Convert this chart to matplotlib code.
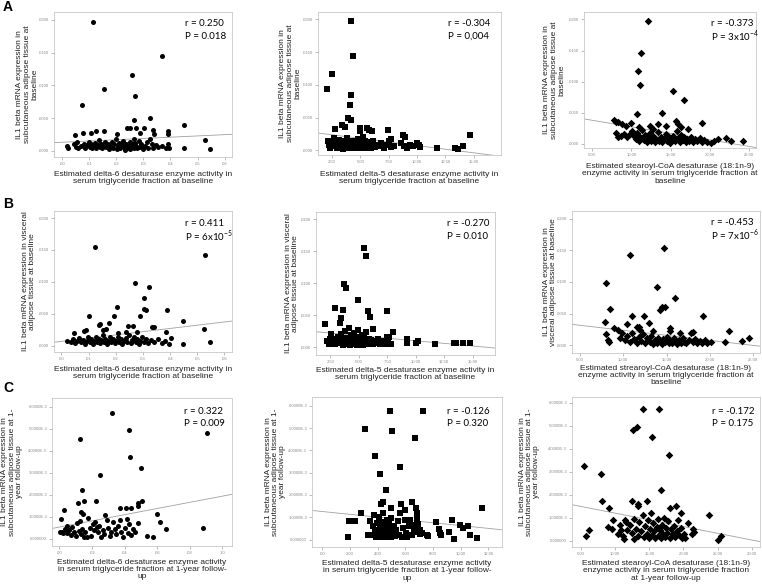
import matplotlib
matplotlib.use('Agg')

import matplotlib.pyplot as plt
import numpy as np

W, H = 762, 588
plt.rcParams['font.family'] = ['Liberation Sans', 'DejaVu Sans']

# ---- data ----
a1_x = [0.0113, 0.0367, 0.0258, 0.0153, 0.0268, 0.0074, 0.0323, 0.0266, 0.0448, 0.0240,
        0.0250, 0.0272, 0.0304, 0.0335, 0.0390, 0.0389, 0.0125, 0.0154, 0.0106, 0.0077,
        0.0049, 0.0204, 0.0286, 0.0340, 0.0528, 0.0547, 0.0450,
        0.0018, 0.0020, 0.0045, 0.0050, 0.0055, 0.0060, 0.0068, 0.0080, 0.0085, 0.0092,
        0.0098, 0.0103, 0.0108, 0.0112, 0.0117, 0.0121, 0.0126, 0.0131, 0.0135, 0.0139,
        0.0143, 0.0148, 0.0152, 0.0158, 0.0163, 0.0168, 0.0173, 0.0178, 0.0183, 0.0188,
        0.0193, 0.0198, 0.0201, 0.0206, 0.0211, 0.0215, 0.0220, 0.0225, 0.0229, 0.0233,
        0.0237, 0.0241, 0.0245, 0.0249, 0.0252, 0.0256, 0.0260, 0.0264, 0.0267, 0.0270,
        0.0274, 0.0278, 0.0282, 0.0287, 0.0292, 0.0298, 0.0305, 0.0312, 0.0318, 0.0325,
        0.0330, 0.0336, 0.0345, 0.0355, 0.0370, 0.0385, 0.0395, 0.0392]
a1_y = [0.0197, 0.0145, 0.0116, 0.0094, 0.0084, 0.0070, 0.0050, 0.0048, 0.0040, 0.0035,
        0.0035, 0.0035, 0.0035, 0.0032, 0.0031, 0.0026, 0.0030, 0.0030, 0.0027, 0.0027,
        0.0025, 0.0026, 0.0028, 0.0026, 0.0016, 0.0003, 0.0004,
        0.0007, 0.0005, 0.0010, 0.0006, 0.0013, 0.0004, 0.0008, 0.0011, 0.0005, 0.0009,
        0.0014, 0.0006, 0.0010, 0.0004, 0.0008, 0.0012, 0.0005, 0.0009, 0.0016, 0.0006,
        0.0011, 0.0004, 0.0008, 0.0013, 0.0006, 0.0010, 0.0003, 0.0008, 0.0014, 0.0005,
        0.0010, 0.0019, 0.0003, 0.0007, 0.0012, 0.0004, 0.0009, 0.0015, 0.0006, 0.0002,
        0.0011, 0.0005, 0.0008, 0.0013, 0.0003, 0.0007, 0.0010, 0.0018, 0.0005, 0.0012,
        0.0008, 0.0004, 0.0015, 0.0006, 0.0010, 0.0003, 0.0008, 0.0013, 0.0005, 0.0019,
        0.0011, 0.0004, 0.0009, 0.0006, 0.0008, 0.0004, 0.0005, 0.0011]

a2_x = [4.21, 4.39, 2.50, 2.03, 4.18, 4.06, 3.92, 4.18, 3.38, 3.68,
        2.80, 4.98, 4.98, 5.62, 5.74, 7.42, 8.78, 8.93, 14.68, 6.04,
        2.65, 2.12, 14.08, 11.73, 13.38, 13.58, 7.66,
        2.20, 2.35, 2.55, 2.70, 2.85, 2.95, 3.05, 3.15, 3.25, 3.35,
        3.45, 3.55, 3.62, 3.70, 3.78, 3.85, 3.92, 4.00, 4.08, 4.15,
        4.22, 4.30, 4.38, 4.45, 4.52, 4.60, 4.68, 4.75, 4.82, 4.90,
        4.97, 5.05, 5.12, 5.20, 5.28, 5.35, 5.42, 5.50, 5.58, 5.66,
        5.75, 5.85, 5.95, 6.05, 6.15, 6.25, 6.40, 6.60, 6.85, 7.05,
        7.30, 7.50, 7.70, 7.95, 8.60, 8.85, 9.10, 9.40, 9.65, 9.95,
        10.15, 10.30]
a2_y = [0.0197, 0.0144, 0.0116, 0.0094, 0.0084, 0.0069, 0.0050, 0.0047, 0.0039, 0.0035,
        0.0032, 0.0034, 0.0030, 0.0034, 0.0031, 0.0031, 0.0024, 0.0021, 0.0024, 0.0029,
        0.0019, 0.0014, 0.0006, 0.0003, 0.0003, 0.0002, 0.0018,
        0.0008, 0.0004, 0.0011, 0.0006, 0.0013, 0.0003, 0.0009, 0.0016, 0.0005, 0.0011,
        0.0002, 0.0008, 0.0014, 0.0005, 0.0010, 0.0019, 0.0003, 0.0007, 0.0012, 0.0004,
        0.0009, 0.0015, 0.0006, 0.0011, 0.0003, 0.0008, 0.0013, 0.0005, 0.0017, 0.0009,
        0.0004, 0.0012, 0.0007, 0.0021, 0.0005, 0.0010, 0.0015, 0.0003, 0.0008, 0.0013,
        0.0006, 0.0010, 0.0004, 0.0008, 0.0014, 0.0005, 0.0009, 0.0006, 0.0011, 0.0004,
        0.0009, 0.0014, 0.0005, 0.0007, 0.0011, 0.0006, 0.0004, 0.0009, 0.0007, 0.0012,
        0.0008, 0.0005]

a3_x = [12.09, 11.20, 10.86, 11.11, 15.32, 16.76, 13.96, 10.65, 7.76, 8.06,
        8.27, 19.01, 8.82, 9.33, 9.97, 8.00, 8.27, 15.66, 15.91, 16.30,
        12.39, 13.37, 20.58, 21.05, 22.11, 22.70, 24.24, 20.16,
        8.70, 9.05, 9.40, 9.75, 10.05, 10.30, 10.55, 10.75, 10.95, 11.15,
        11.35, 11.55, 11.75, 11.95, 12.15, 12.35, 12.55, 12.75, 12.95, 13.15,
        13.35, 13.55, 13.75, 13.95, 14.15, 14.35, 14.55, 14.75, 14.95, 15.15,
        15.35, 15.55, 15.75, 15.95, 16.15, 16.35, 16.55, 16.75, 16.95, 17.15,
        17.40, 17.65, 17.90, 18.15, 18.40, 18.70, 19.00, 19.30, 19.60, 11.00,
        12.80, 14.40, 17.20]
a3_y = [0.0197, 0.0146, 0.0117, 0.0094, 0.0084, 0.0070, 0.0049, 0.0047, 0.0038, 0.0035,
        0.0035, 0.0034, 0.0032, 0.0029, 0.0034, 0.0017, 0.0010, 0.0037, 0.0031, 0.0027,
        0.0028, 0.0031, 0.0004, 0.0007, 0.0009, 0.0004, 0.0005, 0.0001,
        0.0012, 0.0015, 0.0011, 0.0016, 0.0020, 0.0013, 0.0007, 0.0017, 0.0004, 0.0010,
        0.0022, 0.0006, 0.0014, 0.0002, 0.0009, 0.0017, 0.0005, 0.0012, 0.0003, 0.0008,
        0.0019, 0.0005, 0.0011, 0.0002, 0.0008, 0.0015, 0.0004, 0.0010, 0.0001, 0.0007,
        0.0013, 0.0004, 0.0020, 0.0009, 0.0003, 0.0014, 0.0006, 0.0011, 0.0002, 0.0008,
        0.0005, 0.0010, 0.0003, 0.0007, 0.0004, 0.0009, 0.0003, 0.0006, 0.0002, 0.0027,
        0.0024, 0.0028, 0.0024]

b1_x = [0.0123, 0.0528, 0.0270, 0.0321, 0.0304, 0.0303, 0.0313, 0.0205, 0.0102, 0.0193,
        0.0288, 0.0389, 0.0447, 0.0525, 0.0547, 0.0449, 0.0142, 0.0177, 0.0244, 0.0334,
        0.0340, 0.0385, 0.0402, 0.0045, 0.0083, 0.0089, 0.0020,
        0.0264, 0.0280, 0.0237, 0.0209, 0.0166, 0.0153, 0.0138,
        0.0035, 0.0042, 0.0050, 0.0058, 0.0065, 0.0072, 0.0080, 0.0086, 0.0093, 0.0099,
        0.0105, 0.0110, 0.0116, 0.0121, 0.0127, 0.0132, 0.0137, 0.0142, 0.0147, 0.0152,
        0.0157, 0.0162, 0.0168, 0.0173, 0.0178, 0.0184, 0.0190, 0.0196, 0.0201, 0.0207,
        0.0213, 0.0219, 0.0225, 0.0231, 0.0237, 0.0243, 0.0249, 0.0255, 0.0261, 0.0267,
        0.0273, 0.0279, 0.0285, 0.0291, 0.0297, 0.0304, 0.0312, 0.0320, 0.0330, 0.0342,
        0.0355, 0.0370, 0.0382, 0.0395]
b1_y = [0.0154, 0.0142, 0.0098, 0.0092, 0.0074, 0.0057, 0.0056, 0.0060, 0.0047, 0.0046,
        0.0046, 0.0056, 0.0038, 0.0026, 0.0006, 0.0003, 0.0034, 0.0035, 0.0030, 0.0029,
        0.0029, 0.0022, 0.0012, 0.0019, 0.0023, 0.0024, 0.0007,
        0.0031, 0.0022, 0.0022, 0.0020, 0.0026, 0.0024, 0.0033,
        0.0006, 0.0010, 0.0004, 0.0008, 0.0012, 0.0005, 0.0009, 0.0003, 0.0007, 0.0013,
        0.0005, 0.0010, 0.0003, 0.0008, 0.0014, 0.0006, 0.0011, 0.0004, 0.0009, 0.0016,
        0.0005, 0.0010, 0.0003, 0.0008, 0.0013, 0.0006, 0.0011, 0.0004, 0.0008, 0.0014,
        0.0005, 0.0010, 0.0003, 0.0008, 0.0012, 0.0006, 0.0017, 0.0004, 0.0009, 0.0013,
        0.0005, 0.0010, 0.0003, 0.0008, 0.0014, 0.0005, 0.0010, 0.0004, 0.0009, 0.0006,
        0.0011, 0.0004, 0.0008, 0.0003]

b2_x = [5.49, 5.63, 3.70, 3.85, 4.96, 2.94, 3.61, 5.84, 6.01, 7.48,
        3.44, 3.35, 2.00, 6.28, 8.00, 7.45, 7.62, 9.20, 9.26, 10.20,
        10.02, 11.72, 13.39, 13.57, 14.15, 14.74, 2.56, 2.50,
        2.20, 2.35, 2.65, 2.80, 2.95, 3.10, 3.20, 3.30, 3.40, 3.50,
        3.60, 3.70, 3.80, 3.88, 3.95, 4.05, 4.12, 4.20, 4.28, 4.35,
        4.42, 4.50, 4.58, 4.65, 4.72, 4.80, 4.88, 4.95, 5.02, 5.10,
        5.18, 5.25, 5.32, 5.40, 5.48, 5.55, 5.62, 5.70, 5.78, 5.88,
        5.98, 6.10, 6.22, 6.35, 6.50, 6.70, 6.90, 7.10, 7.30, 7.55,
        7.80]
b2_y = [0.0154, 0.0142, 0.0099, 0.0092, 0.0074, 0.0061, 0.0058, 0.0056, 0.0047, 0.0056,
        0.0046, 0.0038, 0.0036, 0.0028, 0.0023, 0.0016, 0.0016, 0.0012, 0.0007, 0.0010,
        0.0007, 0.0004, 0.0007, 0.0006, 0.0007, 0.0007, 0.0021, 0.0012,
        0.0009, 0.0005, 0.0008, 0.0013, 0.0004, 0.0010, 0.0016, 0.0006, 0.0021, 0.0011,
        0.0003, 0.0008, 0.0025, 0.0014, 0.0005, 0.0010, 0.0029, 0.0003, 0.0018, 0.0008,
        0.0013, 0.0004, 0.0022, 0.0010, 0.0006, 0.0015, 0.0003, 0.0026, 0.0009, 0.0012,
        0.0005, 0.0019, 0.0008, 0.0003, 0.0014, 0.0006, 0.0024, 0.0010, 0.0004, 0.0013,
        0.0007, 0.0011, 0.0004, 0.0009, 0.0006, 0.0013, 0.0005, 0.0009, 0.0004, 0.0008,
        0.0005]

b3_x = [14.67, 10.74, 8.08, 13.90, 15.98, 14.25, 14.51, 14.86, 8.47, 11.01,
        12.36, 19.21, 7.93, 10.47, 12.97, 9.00, 9.39, 11.55, 11.80, 12.00,
        15.44, 15.44, 22.22, 8.08, 8.31, 8.35, 24.49, 23.72, 21.68,
        9.60, 9.90, 10.20, 10.50, 10.80, 11.05, 11.30, 11.55, 11.80, 12.05,
        12.30, 12.55, 12.80, 13.05, 13.25, 13.45, 13.65, 13.85, 14.05, 14.25,
        14.45, 14.65, 14.85, 15.05, 15.25, 15.45, 15.65, 15.85, 16.05, 16.25,
        16.45, 16.65, 16.85, 17.05, 17.30, 17.55, 17.80, 18.05, 18.30, 18.55,
        18.80, 19.10, 19.40, 19.70, 20.10, 13.40, 16.60, 18.10]
b3_y = [0.0154, 0.0142, 0.0098, 0.0092, 0.0074, 0.0056, 0.0060, 0.0061, 0.0058, 0.0046,
        0.0046, 0.0047, 0.0037, 0.0034, 0.0035, 0.0028, 0.0025, 0.0029, 0.0029, 0.0025,
        0.0028, 0.0022, 0.0022, 0.0018, 0.0009, 0.0006, 0.0012, 0.0007, 0.0006,
        0.0012, 0.0019, 0.0008, 0.0015, 0.0005, 0.0020, 0.0010, 0.0004, 0.0013, 0.0007,
        0.0018, 0.0003, 0.0011, 0.0006, 0.0015, 0.0002, 0.0009, 0.0004, 0.0012, 0.0007,
        0.0002, 0.0010, 0.0005, 0.0014, 0.0003, 0.0008, 0.0004, 0.0011, 0.0006, 0.0002,
        0.0009, 0.0004, 0.0012, 0.0006, 0.0003, 0.0009, 0.0020, 0.0005, 0.0010, 0.0003,
        0.0007, 0.0004, 0.0008, 0.0003, 0.0005, 0.0022, 0.0019, 0.0021]

c1_x = [0.0322, 0.0430, 0.0906, 0.0129, 0.0434, 0.0500, 0.0252, 0.0141, 0.0508, 0.0150,
        0.0223, 0.0115, 0.0480, 0.0480, 0.0029, 0.0370, 0.0410, 0.0440, 0.0283, 0.0602,
        0.0131, 0.0148, 0.0012, 0.0174, 0.0879, 0.0656, 0.0620, 0.0535, 0.0574,
        0.0005, 0.0015, 0.0025, 0.0035, 0.0045, 0.0050, 0.0060, 0.0070, 0.0080, 0.0090,
        0.0100, 0.0108, 0.0118, 0.0125, 0.0135, 0.0142, 0.0152, 0.0160, 0.0170, 0.0185,
        0.0195, 0.0205, 0.0212, 0.0220, 0.0228, 0.0236, 0.0245, 0.0255, 0.0265, 0.0275,
        0.0290, 0.0300, 0.0310, 0.0318, 0.0330, 0.0340, 0.0350, 0.0360, 0.0370, 0.0380,
        0.0390, 0.0400, 0.0412, 0.0420, 0.0430, 0.0440, 0.0450, 0.0465, 0.0480]
c1_y = [0.00573, 0.00492, 0.00482, 0.00452, 0.00371, 0.00321, 0.00291, 0.00220, 0.00170, 0.00170,
        0.00170, 0.00160, 0.00160, 0.00148, 0.00129, 0.00140, 0.00140, 0.00140, 0.00110, 0.00112,
        0.00120, 0.00114, 0.00090, 0.00095, 0.00050, 0.00042, 0.00074, 0.00014, 0.00008,
        0.00030, 0.00032, 0.00028, 0.00045, 0.00060, 0.00025, 0.00040, 0.00018, 0.00055, 0.00030,
        0.00012, 0.00070, 0.00035, 0.00080, 0.00022, 0.00045, 0.00010, 0.00030, 0.00008, 0.00050,
        0.00012, 0.00065, 0.00040, 0.00075, 0.00055, 0.00030, 0.00060, 0.00010, 0.00040, 0.00020,
        0.00085, 0.00050, 0.00012, 0.00030, 0.00075, 0.00045, 0.00020, 0.00060, 0.00085, 0.00030,
        0.00008, 0.00050, 0.00090, 0.00025, 0.00065, 0.00018, 0.00045, 0.00030, 0.00070]

c2_x = [4.89, 7.28, 3.07, 5.05, 6.68, 3.81, 5.58, 4.19, 4.62, 4.36,
        4.26, 5.68, 6.51, 6.01, 6.78, 2.78, 4.96, 11.54, 2.37, 1.94,
        1.89, 8.24, 9.34, 9.96, 10.13, 10.49, 10.66, 11.14, 8.43, 8.53,
        8.60, 9.17, 9.53, 7.57, 7.64, 6.85, 6.85, 6.92, 7.09, 7.21,
        3.30, 3.45, 3.55, 3.65, 3.75, 3.80, 3.90, 3.95, 4.00, 4.05,
        4.10, 4.15, 4.20, 4.25, 4.30, 4.35, 4.40, 4.45, 4.50, 4.55,
        4.60, 4.65, 4.70, 4.75, 4.80, 4.85, 4.90, 4.95, 5.00, 5.05,
        5.15, 5.25, 5.35, 5.45, 5.55, 5.65, 5.75, 5.85, 5.95, 6.05,
        6.15, 6.25, 6.35, 6.50, 6.60, 6.70, 6.80, 6.95, 7.05]
c2_y = [0.00578, 0.00578, 0.00496, 0.00485, 0.00455, 0.00375, 0.00324, 0.00294, 0.00221, 0.00170,
        0.00158, 0.00158, 0.00170, 0.00134, 0.00140, 0.00121, 0.00140, 0.00140, 0.00084, 0.00085,
        0.00013, 0.00079, 0.00088, 0.00064, 0.00052, 0.00063, 0.00019, 0.00007, 0.00046, 0.00030,
        0.00022, 0.00034, 0.00003, 0.00019, 0.00015, 0.00094, 0.00118, 0.00072, 0.00043, 0.00031,
        0.00020, 0.00085, 0.00020, 0.00060, 0.00110, 0.00035, 0.00010, 0.00075, 0.00045, 0.00025,
        0.00100, 0.00010, 0.00055, 0.00035, 0.00080, 0.00015, 0.00120, 0.00045, 0.00010, 0.00065,
        0.00030, 0.00090, 0.00015, 0.00050, 0.00075, 0.00020, 0.00040, 0.00010, 0.00095, 0.00030,
        0.00060, 0.00015, 0.00045, 0.00085, 0.00020, 0.00120, 0.00010, 0.00050, 0.00090, 0.00030,
        0.00010, 0.00060, 0.00090, 0.00020, 0.00045, 0.00065, 0.00035, 0.00050, 0.00025]

c3_x = [14.06, 16.45, 12.65, 13.24, 15.33, 17.91, 5.39, 7.92, 16.74, 8.07,
        9.09, 12.50, 13.28, 13.38, 14.60, 18.89, 18.06, 19.57, 23.76, 20.60,
        5.68, 6.22, 24.98, 25.50, 8.90, 9.53, 9.68, 11.38, 10.75, 11.63,
        21.42, 21.52, 21.23, 20.25, 11.24, 12.80,
        11.80, 12.10, 12.40, 12.70, 13.00, 13.30, 13.55, 13.80, 14.00, 14.20,
        14.40, 14.60, 14.80, 15.00, 15.15, 15.30, 15.45, 15.60, 15.75, 15.90,
        16.05, 16.20, 16.35, 16.50, 16.65, 16.80, 16.95, 17.10, 17.25, 17.40,
        17.60, 17.80, 18.00, 18.20, 18.40, 18.60, 18.80, 19.00, 19.20, 19.40,
        19.60, 19.85, 20.10, 10.40, 10.90, 11.10]
c3_y = [0.00573, 0.00573, 0.00483, 0.00494, 0.00452, 0.00372, 0.00323, 0.00292, 0.00221, 0.00172,
        0.00141, 0.00172, 0.00161, 0.00151, 0.00172, 0.00151, 0.00141, 0.00122, 0.00112, 0.00077,
        0.00020, 0.00044, 0.00001, 0.00019, 0.00060, 0.00051, 0.00090, 0.00090, 0.00067, 0.00081,
        0.00052, 0.00039, 0.00029, 0.00012, 0.00007, 0.00007,
        0.00045, 0.00070, 0.00035, 0.00095, 0.00050, 0.00020, 0.00080, 0.00040, 0.00110, 0.00015,
        0.00065, 0.00030, 0.00090, 0.00010, 0.00050, 0.00120, 0.00025, 0.00075, 0.00040, 0.00010,
        0.00060, 0.00095, 0.00025, 0.00045, 0.00010, 0.00070, 0.00030, 0.00100, 0.00015, 0.00055,
        0.00035, 0.00085, 0.00010, 0.00050, 0.00030, 0.00065, 0.00015, 0.00040, 0.00090, 0.00025,
        0.00055, 0.00010, 0.00030, 0.00030, 0.00045, 0.00020]

# regression lines (intercept, slope) as drawn in the figure
fit_a = [(0.00133, 0.0193), (0.00293, -0.00022), (0.00481, -0.00021)]
fit_b = [(0.00066, 0.0508), (0.00259, -0.000162), (0.00397, -0.000159)]
fit_c = [(0.00053, 0.01404), (0.00126, -0.000063), (0.00178, -0.0000585)]

stats_r = ['r = 0.250', 'r = -0.304', 'r = -0.373',
           'r = 0.411', 'r = -0.270', 'r = -0.453',
           'r = 0.322', 'r = -0.126', 'r = -0.172']
stats_p = ['P = 0.018', 'P = 0,004', r'P = 3x10$^{\mathregular{-4}}$',
           r'P = 6x10$^{\mathregular{-5}}$', 'P = 0.010', r'P = 7x10$^{\mathregular{-6}}$',
           'P = 0.009', 'P = 0.320', 'P = 0.175']

d6_ticks = [0, 0.01, 0.02, 0.03, 0.04, 0.05, 0.06]
d6_labels = ['.00', '.01', '.02', '.03', '.04', '.05', '.06']
d5_ticks = [2.5, 5, 7.5, 10, 12.5, 15]
d5_labels = ['2.50', '5.00', '7.50', '10.00', '12.50', '15.00']
scd_ticks = [5, 10, 15, 20, 25]
scd_labels = ['5.00', '10.00', '15.00', '20.00', '25.00']
il_ticks = [0, 0.005, 0.01, 0.015, 0.02]
il_labels = ['.0000', '.0050', '.0100', '.0150', '.0200']
d6c_ticks = [0, 0.02, 0.04, 0.06, 0.08, 0.10]
d6c_labels = ['.00', '.02', '.04', '.06', '.08', '.10']
d5c_ticks = [0, 2, 4, 6, 8, 10, 12]
d5c_labels = ['.00', '2.00', '4.00', '6.00', '8.00', '10.00', '12.00']
scdc_ticks = [5, 10, 15, 20, 25, 30]
scdc_labels = ['5.00', '10.00', '15.00', '20.00', '25.00', '30.00']
ilc_ticks = [0, 0.001, 0.002, 0.003, 0.004, 0.005, 0.006]
ilc_labels = ['0.000000', '1.0000E-3', '2.0000E-3', '3.0000E-3', '4.0000E-3', '5.0000E-3', '6.0000E-3']

ylab_sc = 'IL1 beta mRNA expression in\nsubcutaneous adipose tissue at\nbaseline'
ylab_sc_fu = 'IL1 beta mRNA expression in\nsubcutaneous adipose tissue at 1-\nyear follow-up'
xlab_d6 = 'Estimated delta-6 desaturase enzyme activity in\nserum triglyceride fraction at baseline'
xlab_d5 = 'Estimated delta-5 desaturase enzyme activity in\nserum triglyceride fraction at baseline'

fig = plt.figure(figsize=(W / 100, H / 100), dpi=100)


def panel(box, x, y, fit, marker, msize, xlim, ylim, xt, xtl, yt, ytl,
          xlabel, ylabel, ylab_x, xlab_y, r_txt, p_txt, txt_xy):
    l, t, r, b = box
    ax = fig.add_axes([l / W, 1 - b / H, (r - l) / W, (b - t) / H])
    ax.scatter(x, y, s=msize, marker=marker, c='black', linewidths=0, zorder=3)
    xs = np.array(xlim)
    ax.plot(xs, fit[0] + fit[1] * xs, color='#a0a0a0', lw=0.6, zorder=2)
    ax.set_xlim(xlim)
    ax.set_ylim(ylim)
    ax.set_xticks(xt)
    ax.set_xticklabels(xtl)
    ax.set_yticks(yt)
    ax.set_yticklabels(ytl)
    ax.tick_params(labelsize=3, colors='#8a8a8a', length=2, width=0.4, pad=1.5)
    for s in ax.spines.values():
        s.set_color('#c8c8c8')
        s.set_linewidth(0.6)
    ax.set_xlabel(xlabel, fontsize=6, color='#222222', linespacing=1.05)
    ax.set_ylabel(ylabel, fontsize=6, color='#222222', linespacing=1.05)
    ax.xaxis.set_label_coords(0.5, -(xlab_y - b) / (b - t))
    ax.yaxis.set_label_coords((ylab_x - l) / (r - l), 0.5)
    tx, ty = txt_xy
    fig.text(tx / W, 1 - ty / H, r_txt, fontsize=7, family='Lato', va='center')
    fig.text(tx / W, 1 - (ty + 12.5) / H, p_txt, fontsize=7, family='Lato', va='center')
    return ax


# row A
panel((54, 12, 232, 157), a1_x, a1_y, fit_a[0], 'o', 13, (-0.003, 0.0627), (-0.00092, 0.0212),
      d6_ticks, d6_labels, il_ticks, il_labels, xlab_d6, ylab_sc, 38, 171,
      stats_r[0], stats_p[0], (185, 24))
panel((318, 12, 501, 155), a2_x, a2_y, fit_a[1], 's', 13, (1.26, 17.4), (-0.0007, 0.0211),
      d5_ticks, d5_labels, il_ticks, il_labels, xlab_d5, ylab_sc, 301, 171,
      stats_r[1], stats_p[1], (448, 24))
panel((584, 12, 756, 148), a3_x, a3_y, fit_a[2], 'D', 15, (3.94, 25.9), (-0.0007, 0.0212),
      scd_ticks, scd_labels, il_ticks, il_labels,
      'Estimated stearoyl-CoA desaturase (18:1n-9)\nenzyme activity in serum triglyceride fraction at\nbaseline',
      ylab_sc, 565, 163, stats_r[2], stats_p[2], (711, 24))

# row B
panel((54, 211, 232, 352), b1_x, b1_y, fit_b[0], 'o', 13, (-0.0027, 0.0628), (-0.0010, 0.0211),
      d6_ticks, d6_labels, il_ticks, il_labels, xlab_d6,
      'IL1 beta mRNA expression in visceral\nadipose tissue at baseline', 36, 366,
      stats_r[3], stats_p[3], (185, 224))
panel((316, 212, 495, 355), b2_x, b2_y, fit_b[1], 's', 13, (1.24, 16.96), (-0.00125, 0.0211),
      d5_ticks, d5_labels, il_ticks, il_labels, xlab_d5,
      'IL1 beta mRNA expression in visceral\nadipose tissue at baseline', 299, 367,
      stats_r[4], stats_p[4], (447, 224))
panel((572, 211, 760, 353), b3_x, b3_y, fit_b[2], 'D', 15, (4.11, 25.77), (-0.0012, 0.0212),
      scd_ticks, scd_labels, il_ticks, il_labels,
      'Estimated strearoyl-CoA desaturase (18:1n-9)\nenzyme activity in serum triglyceride fraction at\nbaseline',
      'IL1 beta mRNA expression in\nvisceral adipose tissue at baseline', 557, 365,
      stats_r[5], stats_p[5], (711, 223))

# row C
panel((52, 398, 232, 546), c1_x, c1_y, fit_c[0], 'o', 13, (-0.0045, 0.1059), (-0.00033, 0.00639),
      d6c_ticks, d6c_labels, ilc_ticks, ilc_labels,
      'Estimated delta-6 desaturase enzyme activity\nin serum triglyceride fraction at 1-year follow-\nup',
      ylab_sc_fu, 23, 559, stats_r[6], stats_p[6], (184, 411))
panel((312, 397, 502, 547), c2_x, c2_y, fit_c[1], 's', 13, (-0.74, 12.98), (-0.00033, 0.00639),
      d5c_ticks, d5c_labels, ilc_ticks, ilc_labels,
      'Estimated delta-5 desaturase enzyme activity\nin serum triglyceride fraction at 1-year follow-\nup',
      ylab_sc_fu, 286, 560, stats_r[7], stats_p[7], (447, 411))
panel((572, 397, 760, 547), c3_x, c3_y, fit_c[2], 'D', 15, (3.68, 31.2), (-0.00028, 0.00626),
      scdc_ticks, scdc_labels, ilc_ticks, ilc_labels,
      'Estimated stearoyl-CoA desaturase (18:1n-9)\nenzyme activity in serum triglyceride fraction\nat 1-year follow-up',
      ylab_sc_fu, 540, 560, stats_r[8], stats_p[8], (712, 411))

for letter, ypx in [('A', 7), ('B', 204), ('C', 388)]:
    fig.text(8 / W, 1 - ypx / H, letter, fontsize=10, fontweight='bold', ha='center', va='center')

fig.savefig('out.png', dpi=100)
plt.close(fig)
